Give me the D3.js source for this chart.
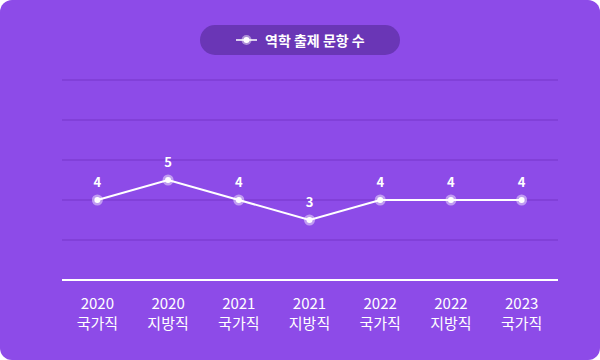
<!DOCTYPE html>
<html><head><meta charset="utf-8">
<script src="https://cdn.jsdelivr.net/npm/d3@7"></script>
<style>html,body{margin:0;padding:0;background:#fff;}svg{display:block;font-family:"Noto Sans CJK KR","Noto Sans",sans-serif;}</style>
</head><body>
<script>
const years = ["2020","2020","2021","2021","2022","2022","2023"];
const types = ["국가직","지방직","국가직","지방직","국가직","지방직","국가직"];
const values = [4,5,4,3,4,4,4];
const gridTicks = [2,4,6,8,10];
const legendLabel = "역학 출제 문항 수";

const W=600,H=360;
const svg=d3.select("body").append("svg").attr("width",W).attr("height",H);
svg.append("rect").attr("width",W).attr("height",H).attr("rx",12).attr("fill","#8d4be8");

const x=d3.scaleBand().domain(d3.range(values.length)).range([62,557]);
const y=d3.scaleLinear().domain([0,10]).range([280,80]);
const cx=i=>x(i)+x.bandwidth()/2;

svg.append("g").selectAll("line").data(gridTicks).join("line")
  .attr("x1",62).attr("x2",558).attr("y1",d=>y(d)).attr("y2",d=>y(d))
  .attr("stroke","#7637c9").attr("stroke-width",1);
svg.append("line").attr("x1",62).attr("x2",558).attr("y1",y(0)).attr("y2",y(0))
  .attr("stroke","#fff").attr("stroke-width",2);

const line=d3.line().x((d,i)=>cx(i)).y(d=>y(d));
svg.append("path").datum(values).attr("d",line).attr("fill","none").attr("stroke","#fff").attr("stroke-width",2);

const pts=svg.append("g").selectAll("g").data(values).join("g");
pts.append("circle").attr("cx",(d,i)=>cx(i)).attr("cy",d=>y(d)).attr("r",5.5).attr("fill","rgba(255,255,255,0.45)");
pts.append("circle").attr("cx",(d,i)=>cx(i)).attr("cy",d=>y(d)).attr("r",3).attr("fill","#fff");
pts.append("text").attr("x",(d,i)=>cx(i)).attr("y",d=>y(d)-13).attr("text-anchor","middle")
  .attr("fill","#fff").attr("font-size",13).attr("font-weight","bold").text(d=>d);

const xl=svg.append("g").selectAll("text").data(values).join("text")
  .attr("text-anchor","middle").attr("fill","#fff").attr("font-size",15);
xl.append("tspan").attr("x",(d,i)=>cx(i)).attr("y",309).text((d,i)=>years[i]);
xl.append("tspan").attr("x",(d,i)=>cx(i)).attr("y",329).text((d,i)=>types[i]);

const lg=svg.append("g");
lg.append("rect").attr("x",200).attr("y",25).attr("width",200).attr("height",30).attr("rx",15).attr("fill","#6a36b6");
lg.append("line").attr("x1",236).attr("x2",257).attr("y1",40).attr("y2",40).attr("stroke","#fff").attr("stroke-width",1.5);
lg.append("circle").attr("cx",246.5).attr("cy",40).attr("r",5).attr("fill","rgba(255,255,255,0.45)");
lg.append("circle").attr("cx",246.5).attr("cy",40).attr("r",3).attr("fill","#fff");
lg.append("text").attr("x",265).attr("y",45.5).attr("fill","#fff").attr("font-size",14).attr("font-weight","bold").text(legendLabel);
</script>
</body></html>
